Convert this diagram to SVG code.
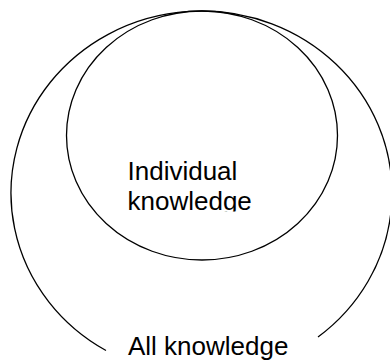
<svg xmlns="http://www.w3.org/2000/svg" width="390" height="360" viewBox="0 0 390 360">
  <style>
    .ring { fill: none; stroke: #000; stroke-width: 1.3; }
    .label { font-family: "Liberation Sans", Arial, sans-serif; font-size: 26px; fill: #000; }
  </style>
  <defs>
    <clipPath id="inner-text-clip">
      <rect x="0" y="0" width="390" height="211.5"/>
    </clipPath>
  </defs>
  <rect width="390" height="360" fill="#fff"/>

  <!-- outer set: open at the bottom where its label sits -->
  <g id="all-knowledge">
    <path class="ring" d="M 106 350.5 A 190.5 182 0 1 1 318 337"/>
    <text class="label" x="128" y="355">All knowledge</text>
  </g>

  <!-- inner set, touching the outer one at the top -->
  <g id="individual-knowledge">
    <ellipse class="ring" cx="202" cy="135.5" rx="135.5" ry="124.5"/>
    <g clip-path="url(#inner-text-clip)">
      <text class="label" x="127.5" y="179.5">Individual</text>
      <text class="label" x="127.5" y="209.5">knowledge</text>
    </g>
  </g>
</svg>
